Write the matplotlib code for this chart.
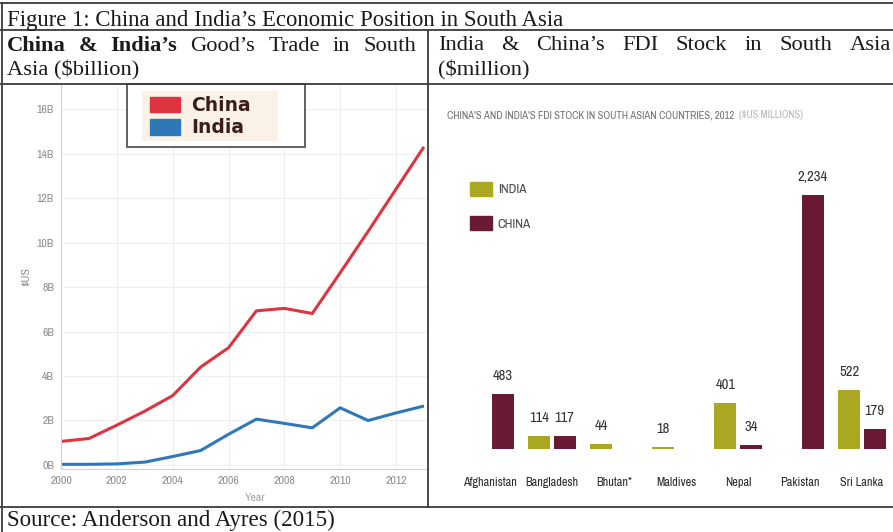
import matplotlib
matplotlib.use('Agg')
import matplotlib.pyplot as plt
from matplotlib import font_manager
from matplotlib.lines import Line2D
from matplotlib.patches import Rectangle, Patch

# goods trade with South Asia, $ billion
years = list(range(2000, 2014))
china_trade = [1.06, 1.19, 1.79, 2.42, 3.12, 4.40, 5.27, 6.93, 7.04, 6.81, 8.64, 10.5, 12.4, 14.3]
india_trade = [0.03, 0.03, 0.05, 0.13, 0.38, 0.65, 1.38, 2.06, 1.87, 1.67, 2.57, 2.00, 2.34, 2.65]
trade_ticks = [0, 2, 4, 6, 8, 10, 12, 14, 16]
year_ticks = [2000, 2002, 2004, 2006, 2008, 2010, 2012]

# FDI stock 2012, $US millions
countries = ['Afghanistan', 'Bangladesh', 'Bhutan*', 'Maldives', 'Nepal', 'Pakistan', 'Sri Lanka']
fdi_india = [0, 114, 44, 18, 401, 0, 522]
fdi_china = [483, 117, 0, 0, 34, 2234, 179]

W, H = 893, 532


def fx(x):
    return x / W


def fy(y):
    return 1 - y / H


installed = sorted({f.name for f in font_manager.fontManager.ttflist})
narrow_opts = [n for n in installed if 'Narrow' in n or 'Condensed' in n]
narrow = narrow_opts[0] if narrow_opts else 'Liberation Sans'
serif = 'Liberation Serif'

fig = plt.figure(figsize=(W / 100, H / 100), dpi=100)
renderer = fig.canvas.get_renderer()

# ---- left: goods trade lines
ax = fig.add_axes([fx(61), fy(469), (427 - 61) / W, (469 - 85) / H])
ax.plot(years, china_trade, color='#dc3540', lw=2.2, solid_capstyle='butt')
ax.plot(years, india_trade, color='#2f78b8', lw=2.2, solid_capstyle='butt')
ax.set_xlim(2000, 2013.11)
ax.set_ylim(-0.18, 17.08)
ax.set_yticks(trade_ticks)
ax.set_yticklabels([f'{t}B' for t in trade_ticks])
ax.set_xticks(year_ticks)
ax.grid(True, color='#efefef', lw=0.8)
ax.set_axisbelow(True)
ax.tick_params(length=0, labelsize=8.5, labelcolor='#8c8c8c', pad=5)
for lab in ax.get_xticklabels() + ax.get_yticklabels():
    lab.set_family(narrow)
for s in ['top', 'right']:
    ax.spines[s].set_visible(False)
for s in ['left', 'bottom']:
    ax.spines[s].set_color('#d0d0d0')
    ax.spines[s].set_linewidth(0.8)
ax.set_xlabel('Year', fontsize=8.5, color='#a0a0a0', family=narrow)
ax.xaxis.set_label_coords((255 - 61) / 366, -0.063)
ax.set_ylabel('$US', fontsize=8.5, color='#8c8c8c', family=narrow)
ax.yaxis.set_label_coords(-0.082, 0.5)

# legend box sitting on the top of the line chart
fig.add_artist(Rectangle((fx(127), fy(147)), (305 - 127) / W, (147 - 84) / H,
                         transform=fig.transFigure, facecolor='white',
                         edgecolor='#555555', lw=1.3))
fig.add_artist(Rectangle((fx(142), fy(141)), (278 - 142) / W, (141 - 91) / H,
                         transform=fig.transFigure, facecolor='#fbf2e7', edgecolor='none'))
fig.legend([Patch(color='#dc3540'), Patch(color='#2f78b8')], ['China', 'India'],
           loc='upper left', bbox_to_anchor=(fx(150), fy(96)), bbox_transform=fig.transFigure,
           frameon=False, borderpad=0, borderaxespad=0,
           prop={'family': 'DejaVu Sans', 'weight': 'bold', 'size': 13.5},
           labelcolor='#3a1d1d', handlelength=1.6, handleheight=0.92,
           handletextpad=0.62, labelspacing=0.18)

# ---- right: FDI stock bars
bx = fig.add_axes([fx(440), fy(449), (893 - 440) / W, (449 - 100) / H])
pos = list(range(len(countries)))
bw = 0.355
off = 0.205
olive = '#aaa722'
maroon = '#6b1a36'
bx.bar([p - off for p in pos], fdi_india, width=bw, color=olive,
       edgecolor=['#e4e4d4' if v == 0 else 'none' for v in fdi_india], lw=0.8)
bx.bar([p + off for p in pos], fdi_china, width=bw, color=maroon,
       edgecolor=['#e4e4d4' if v == 0 else 'none' for v in fdi_china], lw=0.8)
for p, vi, vc in zip(pos, fdi_india, fdi_china):
    for x, v in ((p - off, vi), (p + off, vc)):
        if v:
            bx.annotate(f'{v:,}', (x, v), xytext=(0, 13), textcoords='offset points',
                        ha='center', va='center', fontsize=10.5, color='#333333', family=narrow)
bx.set_xlim(-0.806, 6.5)
bx.set_ylim(0, 3069)
bx.set_xticks(pos)
bx.set_xticklabels(countries, family=narrow, fontsize=10.5, color='#2a2a2a')
bx.tick_params(length=0, pad=20)
bx.set_yticks([])
for s in bx.spines.values():
    s.set_visible(False)
# one common size for the country names, small enough for the longest to fit a group
widest = max(lab.get_window_extent(renderer).width for lab in bx.get_xticklabels())
cat_size = 10.5 * min(1, 54 / widest)
for lab in bx.get_xticklabels():
    lab.set_fontsize(cat_size)

fig.legend([Patch(color=olive), Patch(color=maroon)], ['INDIA', 'CHINA'],
           loc='upper left', bbox_to_anchor=(fx(470), fy(182)), bbox_transform=fig.transFigure,
           frameon=False, borderpad=0, borderaxespad=0,
           prop={'family': narrow, 'size': 9.5}, labelcolor='#4a4a4a',
           handlelength=1.67, handleheight=1.25, handletextpad=0.45, labelspacing=1.55)


def fit_text(s, x0, x1, y, **kw):
    t = fig.text(fx(x0), fy(y), s, fontsize=10, va='baseline', **kw)
    w = t.get_window_extent(renderer).width
    t.set_fontsize(10 * (x1 - x0) / w)
    return t


fit_text("CHINA'S AND INDIA'S FDI STOCK IN SOUTH ASIAN COUNTRIES, 2012", 447, 735, 118,
         family=narrow, weight='bold', color='#707070')
fit_text('($US MILLIONS)', 739, 803, 118, family=narrow, color='#b4b4b4')


# ---- table frame and captions
def justified(words, x0, x1, y, size=16.2):
    items = [fig.text(0, fy(y), w, fontsize=size, fontweight=wt, family=serif,
                      va='baseline', color='#1a1a1a') for w, wt in words]
    widths = [t.get_window_extent(renderer).width for t in items]
    gap = (x1 - x0 - sum(widths)) / (len(items) - 1)
    x = x0
    for t, w in zip(items, widths):
        t.set_x(fx(x))
        x += w + gap


fig.text(fx(7), fy(26), "Figure 1: China and India\u2019s Economic Position in South Asia",
         fontsize=16.4, family=serif, va='baseline', color='#1a1a1a')
justified([('China', 'bold'), ('&', 'bold'), ('India\u2019s', 'bold'), ('Good\u2019s', 'normal'),
           ('Trade', 'normal'), ('in', 'normal'), ('South', 'normal')], 7, 416, 51)
fig.text(fx(7), fy(75), 'Asia ($billion)', fontsize=16.2, family=serif,
         va='baseline', color='#1a1a1a')
justified([('India', 'normal'), ('&', 'normal'), ('China\u2019s', 'normal'), ('FDI', 'normal'),
           ('Stock', 'normal'), ('in', 'normal'), ('South', 'normal'), ('Asia', 'normal')],
          438, 891, 50)
fig.text(fx(438), fy(75), '($million)', fontsize=16.2, family=serif,
         va='baseline', color='#1a1a1a')
fig.text(fx(7), fy(526), 'Source: Anderson and Ayres (2015)', fontsize=16.6, family=serif,
         va='baseline', color='#1a1a1a')

rules = [((0, W), (3, 3)), ((0, W), (30, 30)), ((0, W), (84, 84)), ((0, W), (507, 507)),
         ((2, 2), (3, H)), ((428, 428), (30, 507))]
for xs, ys in rules:
    fig.add_artist(Line2D([fx(x) for x in xs], [fy(y) for y in ys], transform=fig.transFigure,
                          color='#3c3c3c', lw=1.3))

fig.savefig('out.png', dpi=100)
